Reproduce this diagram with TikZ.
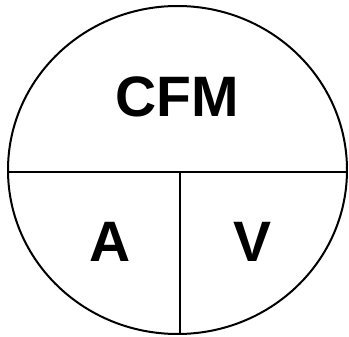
\documentclass[tikz,border=0pt]{standalone}
\usepackage{fontspec}
\setmainfont{Liberation Sans}
\begin{document}
\begin{tikzpicture}[x=1pt,y=-1pt,
  lbl/.style={font=\fontsize{57}{60}\selectfont\bfseries, anchor=base, inner sep=0pt},
  edge/.style={line width=2pt, black}]
\useasboundingbox (0,0) rectangle (349,337);
\draw[edge] (177.5,170) ellipse [x radius=169.5, y radius=164];
\coordinate (l) at (8,172);
\coordinate (r) at (347,172);
\coordinate (m) at (180,172);
\coordinate (b) at (180,334);
\draw[edge] (l) -- (r);
\draw[edge] (m) -- (b);
\node[lbl] (cfm) at (177.5,117) {CFM};
\node[lbl] (a) at (110,262) {A};
\node[lbl] (v) at (252.5,262) {V};
\end{tikzpicture}
\end{document}
